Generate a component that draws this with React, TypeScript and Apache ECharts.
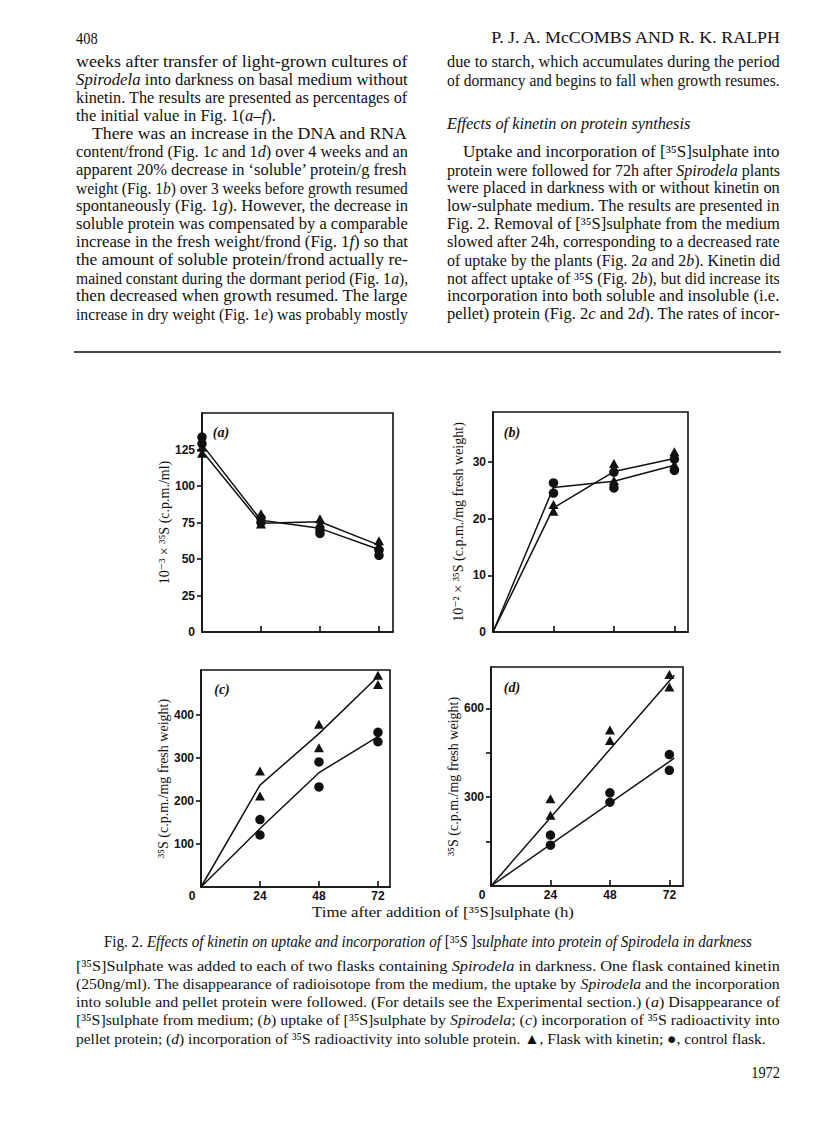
import React, { useEffect, useRef } from "react";
import * as echarts from "echarts";

// ---------------- data ----------------
const HOURS = [0, 24, 48, 72];
const SAMPLE_HOURS = [24, 48, 72];

// (a) disappearance of [35S]sulphate from medium, 10^-3 x c.p.m./ml
const A_KINETIN_LINE = [124, 74.5, 75.5, 59.5];
const A_CONTROL_LINE = [128.5, 76.5, 71, 56.5];
const A_KINETIN_REP1 = [126.5, 81, 77.5, 62.5];
const A_KINETIN_REP2 = [122.5, 74, 74.5, 59.5];
const A_CONTROL_REP1 = [133.5, 78, 70, 56];
const A_CONTROL_REP2 = [129, 75, 67.5, 52.5];

// (b) uptake by Spirodela, 10^-2 x c.p.m./mg fresh weight
const B_KINETIN_LINE = [0, 21.9, 28.3, 30.6];
const B_CONTROL_LINE = [0, 25.5, 26.6, 29.4];
const B_KINETIN_REP1 = [22.5, 29.7, 31.8];
const B_KINETIN_REP2 = [21.3, 26.7, 29.5];
const B_CONTROL_REP1 = [26.3, 28.2, 30.5];
const B_CONTROL_REP2 = [24.5, 25.4, 28.5];

// (c) incorporation into pellet protein, c.p.m./mg fresh weight
const C_KINETIN_LINE = [0, 237, 357, 490];
const C_CONTROL_LINE = [0, 136, 266, 350];
const C_KINETIN_REP1 = [270, 379, 493];
const C_KINETIN_REP2 = [212, 324, 471];
const C_CONTROL_REP1 = [157, 291, 360];
const C_CONTROL_REP2 = [121, 233, 338];

// (d) incorporation into soluble protein, c.p.m./mg fresh weight
const D_FIT_HOURS = [0, 74];
const D_KINETIN_FIT = [0, 712];
const D_CONTROL_FIT = [0, 432];
const D_KINETIN_REP1 = [295, 527, 715];
const D_KINETIN_REP2 = [239, 492, 672];
const D_CONTROL_REP1 = [172, 315, 444];
const D_CONTROL_REP2 = [138, 283, 391];

// tick values / labels
const X_TICKS = [24, 48, 72];
const X_LABELS = [0, 24, 48, 72];
const A_Y_LABELS = [0, 25, 50, 75, 100, 125];
const A_Y_TICKS = [25, 50, 75, 100, 125];
const B_Y_LABELS = [0, 10, 20, 30];
const B_Y_TICKS = [10, 20, 30];
const C_Y_LABELS = [100, 200, 300, 400];
const C_Y_TICKS = [100, 200, 300, 400];
const D_Y_LABELS = [300, 600];
const D_Y_TICKS = [150, 300, 450, 600];

// ---------------- page text ----------------
const HEADER_LEFT = "408";
const HEADER_RIGHT = "P. J. A. McCOMBS AND R. K. RALPH";

// [text, justified, indent]
const LEFT_COL: [string, boolean, number][] = [
  ["weeks after transfer of light-grown cultures of", true, 0],
  ["*Spirodela* into darkness on basal medium without", true, 0],
  ["kinetin. The results are presented as percentages of", true, 0],
  ["the initial value in Fig. 1(*a–f*).", false, 0],
  ["There was an increase in the DNA and RNA", true, 16],
  ["content/frond (Fig. 1*c* and 1*d*) over 4 weeks and an", true, 0],
  ["apparent 20% decrease in ‘soluble’ protein/g fresh", true, 0],
  ["weight (Fig. 1*b*) over 3 weeks before growth resumed", true, 0],
  ["spontaneously (Fig. 1*g*). However, the decrease in", true, 0],
  ["soluble protein was compensated by a comparable", true, 0],
  ["increase in the fresh weight/frond (Fig. 1*f*) so that", true, 0],
  ["the amount of soluble protein/frond actually re-", true, 0],
  ["mained constant during the dormant period (Fig. 1*a*),", true, 0],
  ["then decreased when growth resumed. The large", true, 0],
  ["increase in dry weight (Fig. 1*e*) was probably mostly", true, 0],
];

// [text, justified, indent, line slot]
const RIGHT_COL: [string, boolean, number, number][] = [
  ["due to starch, which accumulates during the period", true, 0, 0],
  ["of dormancy and begins to fall when growth resumes.", true, 0, 1],
  ["*Effects of kinetin on protein synthesis*", false, 0, 3.4],
  ["Uptake and incorporation of [³⁵S]sulphate into", true, 16, 5],
  ["protein were followed for 72h after *Spirodela* plants", true, 0, 6],
  ["were placed in darkness with or without kinetin on", true, 0, 7],
  ["low-sulphate medium. The results are presented in", true, 0, 8],
  ["Fig. 2. Removal of [³⁵S]sulphate from the medium", true, 0, 9],
  ["slowed after 24h, corresponding to a decreased rate", true, 0, 10],
  ["of uptake by the plants (Fig. 2*a* and 2*b*). Kinetin did", true, 0, 11],
  ["not affect uptake of ³⁵S (Fig. 2*b*), but did increase its", true, 0, 12],
  ["incorporation into both soluble and insoluble (i.e.", true, 0, 13],
  ["pellet) protein (Fig. 2*c* and 2*d*). The rates of incor-", true, 0, 14],
];

const X_TITLE = "Time after addition of [³⁵S]sulphate (h)";
const FIG_TITLE =
  "Fig. 2. *Effects of kinetin on uptake and incorporation of* [³⁵*S* ]*sulphate into protein of Spirodela in darkness*";
const CAPTION: string[] = [
  "[³⁵S]Sulphate was added to each of two flasks containing *Spirodela* in darkness. One flask contained kinetin",
  "(250ng/ml). The disappearance of radioisotope from the medium, the uptake by *Spirodela* and the incorporation",
  "into soluble and pellet protein were followed. (For details see the Experimental section.) (*a*) Disappearance of",
  "[³⁵S]sulphate from medium; (*b*) uptake of [³⁵S]sulphate by *Spirodela*; (*c*) incorporation of ³⁵S radioactivity into",
  "pellet protein; (*d*) incorporation of ³⁵S radioactivity into soluble protein. ▲, Flask with kinetin; ●, control flask.",
];
const FOOTER = "1972";

// ---------------- helpers ----------------
const SERIF = '"Liberation Serif", "Times New Roman", "DejaVu Serif", serif';
const TICK_FONT = '"Liberation Sans Narrow", "Liberation Sans", Arial, sans-serif';
const INK = "#111111";

let measureCtx: CanvasRenderingContext2D | null = null;
function measure(text: string, size: number, italic: boolean, weight: string) {
  if (!measureCtx) measureCtx = document.createElement("canvas").getContext("2d");
  if (!measureCtx) return text.length * size * 0.45;
  measureCtx.font = `${italic ? "italic" : "normal"} ${weight} ${size}px ${SERIF}`;
  return measureCtx.measureText(text).width;
}

type Seg = { t: string; i: boolean };
function parse(line: string): Seg[] {
  return line
    .split("*")
    .map((t, k) => ({ t, i: k % 2 === 1 }))
    .filter((s) => s.t.length > 0);
}

function naturalWidth(line: string, size: number, weight = "normal") {
  return parse(line).reduce((w, s) => w + measure(s.t, size, s.i, weight), 0);
}

type TOpts = {
  x: number;
  y: number;
  size: number;
  align?: "left" | "right" | "center";
  width?: number;
  scale?: number;
  weight?: string;
};

function textEl(line: string, o: TOpts) {
  const weight = o.weight || "normal";
  const segs = parse(line);
  const nat = naturalWidth(line, o.size, weight);
  const sx = o.width ? o.width / nat : o.scale ?? 1;
  const text = segs.map((s) => (s.i ? `{i|${s.t}}` : s.t)).join("");
  const align = o.align || "left";
  return {
    type: "text",
    x: o.x,
    y: o.y,
    scaleX: sx,
    silent: true,
    style: {
      text,
      fill: INK,
      fontSize: o.size,
      fontFamily: SERIF,
      fontWeight: weight,
      align,
      textAlign: align,
      verticalAlign: "middle",
      textVerticalAlign: "middle",
      rich: {
        i: { fontStyle: "italic", fontSize: o.size, fontFamily: SERIF, fontWeight: weight, fill: INK },
      },
    },
  };
}

const pairs = (xs: number[], ys: number[]) => xs.map((x, k) => [x, ys[k]]);

function buildPageText() {
  const els: any[] = [];
  const BODY = 16;
  const Y0 = 62;
  const LS = 18;

  els.push(textEl(HEADER_LEFT, { x: 76, y: 38, size: 16, scale: 0.9 }));
  els.push(textEl(HEADER_RIGHT, { x: 780, y: 38, size: 16, align: "right", width: 291 }));

  const column = (
    rows: { text: string; just: boolean; indent: number; slot: number }[],
    x0: number,
    width: number
  ) => {
    const scales = rows
      .filter((r) => r.just)
      .map((r) => (width - r.indent) / naturalWidth(r.text, BODY));
    const avg = scales.reduce((a, b) => a + b, 0) / Math.max(1, scales.length);
    rows.forEach((r) => {
      const y = Y0 + r.slot * LS;
      if (r.just) els.push(textEl(r.text, { x: x0 + r.indent, y, size: BODY, width: width - r.indent }));
      else els.push(textEl(r.text, { x: x0 + r.indent, y, size: BODY, scale: avg }));
    });
  };
  column(
    LEFT_COL.map(([text, just, indent], k) => ({ text, just, indent, slot: k })),
    76,
    332
  );
  column(
    RIGHT_COL.map(([text, just, indent, slot]) => ({ text, just, indent, slot })),
    447,
    333
  );

  // horizontal rule
  els.push({
    type: "line",
    silent: true,
    shape: { x1: 74, y1: 352, x2: 781, y2: 352 },
    style: { stroke: INK, lineWidth: 1.3 },
  });

  // figure x title
  els.push(textEl(X_TITLE, { x: 443, y: 912, size: 15, align: "center", width: 262 }));
  // caption
  els.push(textEl(FIG_TITLE, { x: 428, y: 941, size: 16, align: "center", width: 648 }));
  CAPTION.forEach((line, k) => {
    const last = k === CAPTION.length - 1;
    els.push(textEl(line, { x: 76, y: 966 + k * 18, size: 15.5, width: last ? 690 : 704 }));
  });
  els.push(textEl(FOOTER, { x: 780, y: 1072, size: 16, align: "right", scale: 0.9 }));
  return els;
}

type Panel = {
  grid: { left: number; top: number; width: number; height: number };
  xMax: number;
  yMax: number;
  yLabels: number[];
  yTicks: number[];
  xLabels: number[] | null;
  name: string;
  tag: string;
  tagX: number;
  tagY: number;
  kinLineX: number[];
  kinLine: number[];
  conLineX: number[];
  conLine: number[];
  repX: number[];
  kin1: number[];
  kin2: number[];
  con1: number[];
  con2: number[];
};

const PANELS: Panel[] = [
  {
    grid: { left: 202, top: 413, width: 191, height: 219 },
    xMax: 77.7, yMax: 150, yLabels: A_Y_LABELS, yTicks: A_Y_TICKS, xLabels: null,
    name: "10⁻³ × ³⁵S (c.p.m./ml)", tag: "(a)", tagX: 221, tagY: 432,
    kinLineX: HOURS, kinLine: A_KINETIN_LINE, conLineX: HOURS, conLine: A_CONTROL_LINE,
    repX: HOURS, kin1: A_KINETIN_REP1, kin2: A_KINETIN_REP2, con1: A_CONTROL_REP1, con2: A_CONTROL_REP2,
  },
  {
    grid: { left: 493, top: 412, width: 195, height: 220 },
    xMax: 77.4, yMax: 38.8, yLabels: B_Y_LABELS, yTicks: B_Y_TICKS, xLabels: null,
    name: "10⁻² × ³⁵S (c.p.m./mg fresh weight)", tag: "(b)", tagX: 512, tagY: 432,
    kinLineX: HOURS, kinLine: B_KINETIN_LINE, conLineX: HOURS, conLine: B_CONTROL_LINE,
    repX: SAMPLE_HOURS, kin1: B_KINETIN_REP1, kin2: B_KINETIN_REP2, con1: B_CONTROL_REP1, con2: B_CONTROL_REP2,
  },
  {
    grid: { left: 201, top: 670, width: 189, height: 217 },
    xMax: 76.9, yMax: 505, yLabels: C_Y_LABELS, yTicks: C_Y_TICKS, xLabels: X_LABELS,
    name: "³⁵S (c.p.m./mg fresh weight)", tag: "(c)", tagX: 222, tagY: 689,
    kinLineX: HOURS, kinLine: C_KINETIN_LINE, conLineX: HOURS, conLine: C_CONTROL_LINE,
    repX: SAMPLE_HOURS, kin1: C_KINETIN_REP1, kin2: C_KINETIN_REP2, con1: C_CONTROL_REP1, con2: C_CONTROL_REP2,
  },
  {
    grid: { left: 491, top: 667, width: 192, height: 219 },
    xMax: 77.5, yMax: 740, yLabels: D_Y_LABELS, yTicks: D_Y_TICKS, xLabels: X_LABELS,
    name: "³⁵S (c.p.m./mg fresh weight)", tag: "(d)", tagX: 512, tagY: 687,
    kinLineX: D_FIT_HOURS, kinLine: D_KINETIN_FIT, conLineX: D_FIT_HOURS, conLine: D_CONTROL_FIT,
    repX: SAMPLE_HOURS, kin1: D_KINETIN_REP1, kin2: D_KINETIN_REP2, con1: D_CONTROL_REP1, con2: D_CONTROL_REP2,
  },
];

function buildOption() {
  const tickLabelStyle = { fontFamily: TICK_FONT, fontWeight: "bold", fontSize: 12, color: INK };
  const grids = PANELS.map((p) => ({
    ...p.grid,
    show: true,
    borderColor: INK,
    borderWidth: 1.6,
    backgroundColor: "transparent",
    containLabel: false,
    outerBoundsMode: "none",
  }));
  const xAxes = PANELS.map((p, i) => ({
    type: "value",
    gridIndex: i,
    min: 0,
    max: p.xMax,
    axisLine: { show: true, lineStyle: { color: INK, width: 1.6 } },
    splitLine: { show: false },
    axisTick: { show: true, inside: true, length: 6, customValues: X_TICKS, lineStyle: { color: INK, width: 1.6 } },
    axisLabel: p.xLabels
      ? {
          show: true,
          customValues: p.xLabels,
          margin: 3,
          ...tickLabelStyle,
          formatter: (v: number) => (v === 0 ? "{z|0}" : `{n|${v}}`),
          rich: {
            z: { ...tickLabelStyle, padding: [0, 18, 0, 0] },
            n: { ...tickLabelStyle },
          },
        }
      : { show: false },
  }));
  const yAxes = PANELS.map((p, i) => ({
    type: "value",
    gridIndex: i,
    min: 0,
    max: p.yMax,
    name: p.name,
    nameLocation: "middle",
    nameRotate: 90,
    nameGap: 28,
    nameTextStyle: { fontFamily: SERIF, fontSize: 14, color: INK },
    axisLine: { show: true, lineStyle: { color: INK, width: 1.6 } },
    splitLine: { show: false },
    axisTick: { show: true, inside: false, length: 5, customValues: p.yTicks, lineStyle: { color: INK, width: 1.6 } },
    axisLabel: { show: true, customValues: p.yLabels, margin: 7, ...tickLabelStyle },
  }));

  const series: any[] = [];
  PANELS.forEach((p, i) => {
    const common = { xAxisIndex: i, yAxisIndex: i, silent: true, animation: false };
    series.push({
      ...common,
      type: "line",
      name: "Flask with kinetin (line)",
      data: pairs(p.kinLineX, p.kinLine),
      symbol: "none",
      lineStyle: { color: INK, width: 1.5 },
      z: 2,
    });
    series.push({
      ...common,
      type: "line",
      name: "Control flask (line)",
      data: pairs(p.conLineX, p.conLine),
      symbol: "none",
      lineStyle: { color: INK, width: 1.5 },
      z: 2,
    });
    series.push({
      ...common,
      type: "scatter",
      name: "Flask with kinetin",
      data: [...pairs(p.repX, p.kin1), ...pairs(p.repX, p.kin2)],
      symbol: "triangle",
      symbolSize: [10, 9],
      itemStyle: { color: INK, opacity: 1 },
      z: 3,
    });
    series.push({
      ...common,
      type: "scatter",
      name: "Control flask",
      data: [...pairs(p.repX, p.con1), ...pairs(p.repX, p.con2)],
      symbol: "circle",
      symbolSize: 9.5,
      itemStyle: { color: INK, opacity: 1 },
      z: 3,
    });
  });

  const tags = PANELS.map((p) => ({
    type: "text",
    x: p.tagX,
    y: p.tagY,
    silent: true,
    style: {
      text: p.tag,
      fill: INK,
      fontSize: 14,
      fontFamily: SERIF,
      fontWeight: "bold",
      fontStyle: "italic",
      align: "center",
      textAlign: "center",
      verticalAlign: "middle",
      textVerticalAlign: "middle",
    },
  }));

  return {
    animation: false,
    backgroundColor: "#ffffff",
    grid: grids,
    xAxis: xAxes,
    yAxis: yAxes,
    series,
    graphic: { elements: [...buildPageText(), ...tags] },
  };
}

export default function App() {
  const ref = useRef<HTMLDivElement>(null);
  useEffect(() => {
    if (!ref.current) return;
    const chart = echarts.init(ref.current, undefined, { renderer: "svg", width: 816, height: 1136 });
    chart.setOption(buildOption() as any);
    return () => chart.dispose();
  }, []);
  return (
    <div
      ref={ref}
      style={{ position: "absolute", left: 0, top: 0, width: 816, height: 1136, background: "#ffffff" }}
    />
  );
}
